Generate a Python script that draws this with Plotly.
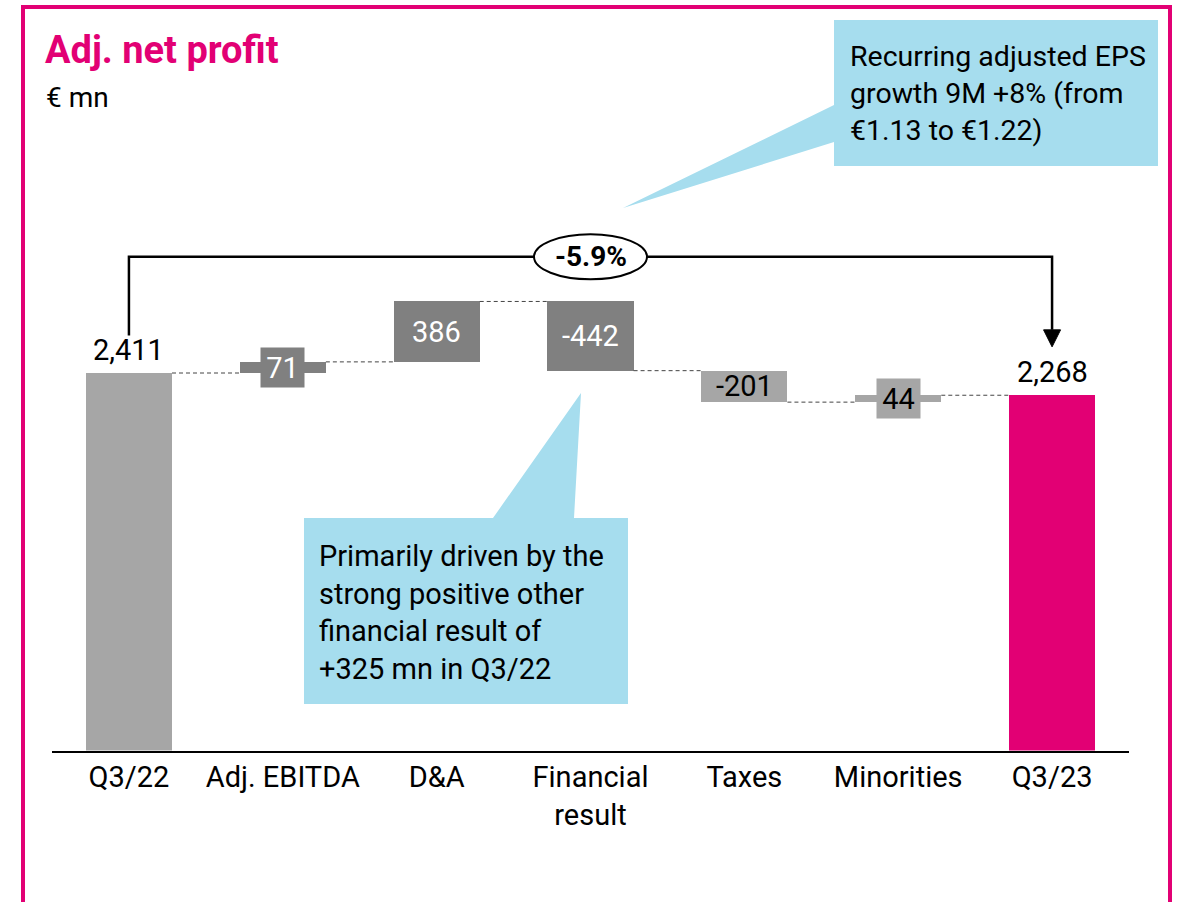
import plotly.graph_objects as go

# ---------------- data ----------------
categories = ["Q3/22", "Adj. EBITDA", "D&A", "Financial<br>result", "Taxes", "Minorities", "Q3/23"]
values = [2411, 71, 386, -442, -201, 44, 2268]
measures = ["absolute", "relative", "relative", "relative", "relative", "relative", "absolute"]
value_labels = ["2,411", "71", "386", "-442", "-201", "44", "2,268"]
change_label = "-5.9%"
title_text = "Adj. net profit"
unit_text = "€ mn"
callout_eps = ["Recurring adjusted EPS", "growth 9M +8% (from", "€1.13 to €1.22)"]
callout_fin = ["Primarily driven by the", "strong positive other", "financial result of", "+325 mn in Q3/22"]

# ---------------- style ----------------
W, H = 1178, 902
MAGENTA = "#e20074"
LIGHT = "#a6a6a6"
DARK = "#808080"
BLUE = "#a6ddee"
bar_colors = [LIGHT, DARK, DARK, DARK, LIGHT, LIGHT, MAGENTA]
text_colors = ["black", "white", "white", "white", "black", "black", "black"]
FONT = "Roboto"

x0_px, x1_px = 52, 1129
base_px = 750.5
px_per_unit = 0.15657
y_max = base_px / px_per_unit
n = len(categories)
step_px = (x1_px - x0_px) / n
bar_w = 0.56


def px_x(p):
    return p / W


def px_y(p):
    return 1 - p / H


# ---------------- waterfall geometry ----------------
bases, heights, ends = [], [], []
level = 0
for v, m in zip(values, measures):
    if m == "absolute":
        b, h, level = 0, v, v
    else:
        start = level
        level = level + v
        b, h = min(start, level), abs(v)
    bases.append(b)
    heights.append(h)
    ends.append(level)

xs = list(range(n))

fig = go.Figure()
fig.add_trace(go.Bar(
    x=xs, y=heights, base=bases, width=bar_w,
    marker=dict(color=bar_colors, line=dict(width=0)),
    hoverinfo="skip", showlegend=False,
))

shapes = []
annotations = []

# connectors
for i in range(n - 1):
    shapes.append(dict(type="line", xref="x", yref="y",
                       x0=i + bar_w / 2, x1=i + 1 - bar_w / 2,
                       y0=ends[i], y1=ends[i],
                       line=dict(color="#444444", width=1, dash="4px,3px")))

# value labels
for i in range(n):
    if measures[i] == "absolute":
        annotations.append(dict(x=i, y=values[i], xref="x", yref="y",
                                text=value_labels[i], showarrow=False,
                                yanchor="bottom", yshift=4,
                                font=dict(family=FONT, size=29, color="black")))
    else:
        mid = bases[i] + heights[i] / 2
        small = heights[i] * px_per_unit < 20
        a = dict(x=i, y=mid, xref="x", yref="y", text=value_labels[i],
                 showarrow=False, yanchor="middle",
                 font=dict(family=FONT, size=29, color=text_colors[i]))
        if small:
            a.update(bgcolor=bar_colors[i], width=43, height=39, borderpad=0)
        annotations.append(a)

# bracket with change
bracket_y = max(ends) + 285
left_bottom = values[0] + 240
tip_y = values[-1] + 310
head_h = 17 / px_per_unit
head_hw = 8.5 / step_px
shapes.append(dict(type="path", xref="x", yref="y",
                   path=f"M 0 {left_bottom} L 0 {bracket_y} L {n-1} {bracket_y} L {n-1} {tip_y + head_h}",
                   line=dict(color="black", width=2.5)))
shapes.append(dict(type="path", xref="x", yref="y",
                   path=f"M {n-1-head_hw} {tip_y + head_h} L {n-1+head_hw} {tip_y + head_h} L {n-1} {tip_y} Z",
                   fillcolor="black", line=dict(color="black", width=1)))
ell_hw = 56.5 / step_px
ell_hh = 22.5 / px_per_unit
shapes.append(dict(type="circle", xref="x", yref="y",
                   x0=3 - ell_hw, x1=3 + ell_hw,
                   y0=bracket_y - ell_hh, y1=bracket_y + ell_hh,
                   fillcolor="white", line=dict(color="black", width=2)))
annotations.append(dict(x=3, y=bracket_y, xref="x", yref="y", text=f"<b>{change_label}</b>",
                        showarrow=False, yanchor="middle",
                        font=dict(family=FONT, size=28, color="black")))

# callouts
def pth(points):
    s = "M " + " L ".join(f"{px_x(x):.5f} {px_y(y):.5f}" for x, y in points) + " Z"
    return s

shapes.append(dict(type="path", xref="paper", yref="paper", layer="above",
                   path=pth([(834, 20), (1158, 20), (1158, 166), (834, 166), (834, 142),
                             (623, 208), (834, 105)]),
                   fillcolor=BLUE, line=dict(width=0)))
shapes.append(dict(type="path", xref="paper", yref="paper", layer="above",
                   path=pth([(304, 518), (493, 518), (581, 393), (574, 518), (628, 518),
                             (628, 704), (304, 704)]),
                   fillcolor=BLUE, line=dict(width=0)))
annotations.append(dict(x=px_x(848), y=px_y(93), xref="paper", yref="paper",
                        text="<br>".join(callout_eps), showarrow=False, align="left",
                        xanchor="left", yanchor="middle",
                        font=dict(family=FONT, size=28.5, color="black")))
annotations.append(dict(x=px_x(317), y=px_y(612), xref="paper", yref="paper",
                        text="<br>".join(callout_fin), showarrow=False, align="left",
                        xanchor="left", yanchor="middle",
                        font=dict(family=FONT, size=29, color="black")))

# frame and titles
shapes.append(dict(type="rect", xref="paper", yref="paper",
                   x0=px_x(23), x1=px_x(1170), y0=px_y(7), y1=px_y(915),
                   line=dict(color=MAGENTA, width=4), fillcolor="rgba(0,0,0,0)"))
annotations.append(dict(x=px_x(43), y=px_y(50), xref="paper", yref="paper",
                        text=f"<b>{title_text}</b>", showarrow=False,
                        xanchor="left", yanchor="middle",
                        font=dict(family=FONT, size=38, color=MAGENTA)))
annotations.append(dict(x=px_x(44), y=px_y(97), xref="paper", yref="paper",
                        text=unit_text, showarrow=False,
                        xanchor="left", yanchor="middle",
                        font=dict(family=FONT, size=28, color="black")))

fig.update_layout(
    width=W, height=H, autosize=False,
    margin=dict(l=0, r=0, t=0, b=0),
    paper_bgcolor="white", plot_bgcolor="white",
    showlegend=False, bargap=0,
    shapes=shapes, annotations=annotations,
    xaxis=dict(domain=[px_x(x0_px), px_x(x1_px)], range=[-0.5, n - 0.5],
               tickmode="array", tickvals=xs, ticktext=categories,
               showgrid=False, zeroline=False, showline=True,
               linecolor="black", linewidth=2, ticks="",
               tickfont=dict(family=FONT, size=29, color="black"),
               fixedrange=True),
    yaxis=dict(domain=[px_y(base_px), 1], range=[0, y_max], visible=False,
               showgrid=False, zeroline=False, fixedrange=True),
)

fig.write_html("out.html", config={"displayModeBar": False},
               post_script="document.body.style.margin='0';")
